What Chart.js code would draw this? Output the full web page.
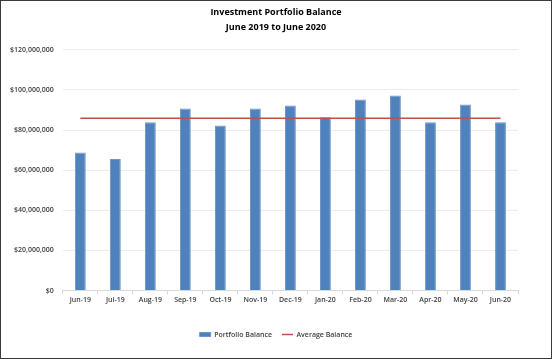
<!DOCTYPE html>
<html>
<head>
<meta charset="utf-8">
<script src="https://cdn.jsdelivr.net/npm/chart.js@4"></script>
<style>
  html, body { margin: 0; padding: 0; background: #fff; }
  #wrap { width: 550px; height: 357px; border: 1px solid #3a3a3a; position: relative; }
</style>
</head>
<body>
<div id="wrap"><canvas id="balanceChart"></canvas></div>
<script>
// monthly balances
const months = ['Jun-19', 'Jul-19', 'Aug-19', 'Sep-19', 'Oct-19', 'Nov-19', 'Dec-19',
  'Jan-20', 'Feb-20', 'Mar-20', 'Apr-20', 'May-20', 'Jun-20'];
const balances = [68800000, 65600000, 83900000, 90700000, 82300000, 90700000, 92200000,
  86300000, 95200000, 97200000, 83800000, 92700000, 83800000];
const average = [85800000, 85800000, 85800000, 85800000, 85800000, 85800000, 85800000,
  85800000, 85800000, 85800000, 85800000, 85800000, 85800000];
const titleLines = ['Investment Portfolio Balance', 'June 2019 to June 2020'];

const tickFont = { family: 'Open Sans', size: 7, weight: '600' };

const data = {
  labels: months,
  datasets: [{
    type: 'bar',
    label: 'Portfolio Balance',
    data: balances,
    backgroundColor: '#4f81bd',
    borderColor: '#6d96c8',
    borderWidth: 1,
    barPercentage: 0.31,
    categoryPercentage: 1,
    pointStyle: 'rect',
    order: 2
  },
  {
    type: 'line',
    label: 'Average Balance',
    data: average,
    borderColor: '#c0504d',
    backgroundColor: '#c0504d',
    borderWidth: 1.5,
    pointRadius: 0,
    pointStyle: 'line',
    order: 1
  }]
};

const config = {
  data: data,
  options: {
    responsive: true,
    maintainAspectRatio: false,
    animation: false,
    layout: { padding: { left: 0, right: 0, top: 4, bottom: 10 } },
    plugins: {
      title: {
        display: true,
        text: titleLines,
        color: '#000',
        font: { family: 'Open Sans', size: 9, weight: 'bold', lineHeight: 1.65 },
        padding: { top: 0, bottom: 15 }
      },
      legend: {
        position: 'bottom',
        labels: {
          usePointStyle: true,
          pointStyleWidth: 11,
          boxHeight: 4,
          color: '#404040',
          font: { family: 'Open Sans', size: 7, weight: '600' },
          padding: 10,
          sort: (a, b) => a.datasetIndex - b.datasetIndex
        }
      },
      tooltip: { enabled: false }
    },
    scales: {
      x: {
        offset: true,
        grid: {
          offset: true,
          drawOnChartArea: false,
          tickLength: 4,
          color: '#d9d9d9'
        },
        border: { color: '#d9d9d9' },
        ticks: { color: '#404040', font: tickFont, maxRotation: 0, padding: 1 },
        // extra room under the month labels, before the legend
        afterFit: scale => { scale.height += 16; }
      },
      y: {
        min: 0,
        max: 120000000,
        ticks: {
          stepSize: 20000000,
          color: '#404040',
          font: tickFont,
          padding: 9,
          callback: v => '$' + v.toLocaleString('en-US')
        },
        grid: { color: '#ececec', drawTicks: false },
        border: { display: false }
      },
      // empty right axis, only keeps the gap on the right like the original
      yRight: {
        position: 'right',
        min: 0,
        max: 120000000,
        ticks: { display: false },
        grid: { drawOnChartArea: false, drawTicks: false },
        border: { display: false },
        afterFit: scale => { scale.width = 33; }
      }
    }
  }
};

var BalanceChart = new Chart(document.getElementById('balanceChart'), config);
</script>
</body>
</html>
